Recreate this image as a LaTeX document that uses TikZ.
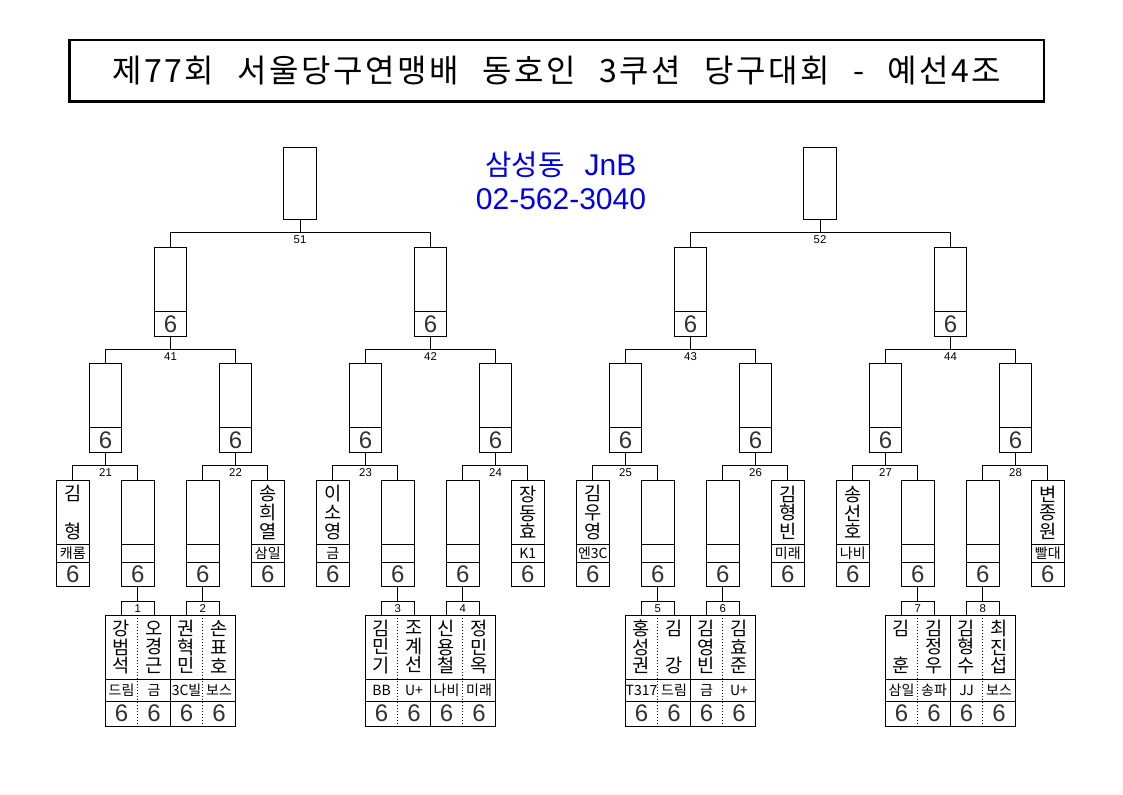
\documentclass[tikz,border=0pt]{standalone}
\usepackage{fontspec}
\setmainfont{Noto Sans CJK KR}
\newfontfamily\titlefont{Noto Sans CJK KR}[WordSpace=2.4, LetterSpace=8]
\newfontfamily\arialfont{Liberation Sans}
\usetikzlibrary{calc,positioning}

\newcommand\stack[3]{#1\\#2\\#3}

\begin{document}
\begin{tikzpicture}[
  x=0.75pt, y=-0.75pt,
  frame/.style={draw, line width=0.75pt, inner sep=0pt, outer sep=0pt},
  topbox/.style={frame, minimum width=24.75pt, minimum height=54pt},
  rbox/.style={frame, minimum width=24pt, minimum height=66.75pt},
  pbox/.style={frame, minimum width=24.5pt, minimum height=79.5pt},
  mbox/.style={frame, minimum width=48.75pt, minimum height=83.25pt},
  hbox/.style={frame, minimum width=24.4pt, minimum height=10pt, font=\arialfont\fontsize{8.5}{8.5}\selectfont},
  num/.style={font=\arialfont\fontsize{8.5}{8.5}\selectfont, inner sep=0pt},
  nm/.style={font=\fontsize{14}{13.9}\selectfont, align=center, inner sep=0pt},
  club/.style={font=\fontsize{10.5}{10.5}\selectfont, inner sep=0pt},
  six/.style={font=\arialfont\fontsize{18}{18}\selectfont, inner sep=0pt, text=black!80},
  dotsep/.style={line width=0.75pt, dash pattern=on 0.75pt off 1.5pt},
  bluetext/.style={font=\fontsize{21.5}{21.5}\selectfont, text={rgb,255:red,0;green,0;blue,235}, inner sep=0pt, anchor=base}
]

% --- page ---
\useasboundingbox (0,0) rectangle (1123,794);

% --- title and sponsor ---
\node[draw, line width=2pt, minimum width=731pt, minimum height=46.3pt, inner sep=0pt,
  font=\titlefont\fontsize{24}{24}\selectfont] (title) at (556.8,70.8)
  {제77회 서울당구연맹배 동호인 3쿠션 당구대회 - 예선4조};
\node[bluetext] (club1) at (561,175.7) {삼성동\hspace{15pt}{\arialfont\fontsize{22.5}{22.5}\selectfont JnB}};
\node[bluetext] (club2) at (561,209) {\arialfont\fontsize{22.5}{22.5}\selectfont 02-562-3040};

% --- top boxes ---
\foreach \h/\n in {0/51,1/52} {
  \node[topbox, anchor=north] (t\h) at (300+520*\h,147.3) {};
  \coordinate (j\n) at (300+520*\h,232.3);
  \node[num, below=2pt of j\n] (l\n) {\n};
}

% --- 41..44 ---
\foreach \k/\n in {0/41,1/42,2/43,3/44} {
  \node[rbox, anchor=north] (q\k) at (170.5+260*\k,247.3) {};
  \draw ($(q\k.south west)+(0,-24.6)$) -- ($(q\k.south east)+(0,-24.6)$);
  \node[six] (qs\k) at ($(q\k.south)+(0,-12.3)$) {6};
  \coordinate (j\n) at (170.5+260*\k,349.3);
  \node[num, below=2pt of j\n] (l\n) {\n};
}

% --- 21..28 ---
\foreach \m/\n in {0/21,1/22,2/23,3/24,4/25,5/26,6/27,7/28} {
  \node[rbox, anchor=north] (e\m) at (105.5+130*\m,363.3) {};
  \draw ($(e\m.south west)+(0,-25)$) -- ($(e\m.south east)+(0,-25)$);
  \node[six] (es\m) at ($(e\m.south)+(0,-12.5)$) {6};
  \coordinate (j\n) at (105.5+130*\m,465.7);
  \node[num, below=2pt of j\n] (l\n) {\n};
}

% --- first row: seeded players and winners of 1..8 ---
\foreach \i in {0,...,15} {
  \node[pbox, anchor=north] (p\i) at (72.8+65*\i,480.7) {};
  \draw ($(p\i.north west)+(0,63.6)$) -- ($(p\i.north east)+(0,63.6)$);
  \draw ($(p\i.north west)+(0,81.3)$) -- ($(p\i.north east)+(0,81.3)$);
  \node[six] (ps\i) at ($(p\i.north)+(0,93.6)$) {6};
}
\foreach \i/\who/\team in {0/{\stack{김}{~}{형}}/캐롬, 3/{\stack{송}{희}{열}}/삼일,
    4/{\stack{이}{소}{영}}/금, 7/{\stack{장}{동}{효}}/K1,
    8/{\stack{김}{우}{영}}/엔3C, 11/{\stack{김}{형}{빈}}/미래,
    12/{\stack{송}{선}{호}}/나비, 15/{\stack{변}{종}{원}}/빨대} {
  \node[nm] (pn\i) at ($(p\i.north)+(0,31.8)$) {\who};
  \node[club] (pc\i) at ($(p\i.north)+(0,72.5)$) {\team};
}

% --- matches 1..8 ---
\foreach \j/\i/\wa/\ta/\wb/\tb in {
    1/1/{\stack{강}{범}{석}}/드림/{\stack{오}{경}{근}}/금,
    2/2/{\stack{권}{혁}{민}}/3C빌/{\stack{손}{표}{호}}/보스,
    3/5/{\stack{김}{민}{기}}/BB/{\stack{조}{계}{선}}/U+,
    4/6/{\stack{신}{용}{철}}/나비/{\stack{정}{민}{옥}}/미래,
    5/9/{\stack{홍}{성}{권}}/T317/{\stack{김}{~}{강}}/드림,
    6/10/{\stack{김}{영}{빈}}/금/{\stack{김}{효}{준}}/U+,
    7/13/{\stack{김}{~}{훈}}/삼일/{\stack{김}{정}{우}}/송파,
    8/14/{\stack{김}{형}{수}}/JJ/{\stack{최}{진}{섭}}/보스} {
  \node[mbox, anchor=north] (m\j) at (72.8+65*\i,615) {};
  \node[hbox, above=0pt of m\j] (h\j) {\j};
  \draw[dotsep] (m\j.north) -- (m\j.south);
  \draw ($(m\j.north west)+(0,64)$) -- ($(m\j.north east)+(0,64)$);
  \draw ($(m\j.north west)+(0,86)$) -- ($(m\j.north east)+(0,86)$);
  \node[nm] (ma\j) at ($(m\j.north)+(-16.25,32)$) {\wa};
  \node[nm] (mb\j) at ($(m\j.north)+(16.25,32)$) {\wb};
  \node[club] (ca\j) at ($(m\j.north)+(-16.25,75)$) {\ta};
  \node[club] (cb\j) at ($(m\j.north)+(16.25,75)$) {\tb};
  \node[six] (sa\j) at ($(m\j.north)+(-16.25,98.5)$) {6};
  \node[six] (sb\j) at ($(m\j.north)+(16.25,98.5)$) {6};
  \draw[line width=0.75pt] (p\i.south) -- (h\j.north);
}

% --- brackets ---
\foreach \h/\n/\a/\b in {0/51/0/1,1/52/2/3} {
  \draw[line width=0.75pt] (t\h.south) -- (j\n);
  \draw[line width=0.75pt] (q\a.north) |- (j\n) -| (q\b.north);
}
\foreach \k/\n/\a/\b in {0/41/0/1,1/42/2/3,2/43/4/5,3/44/6/7} {
  \draw[line width=0.75pt] (q\k.south) -- (j\n);
  \draw[line width=0.75pt] (e\a.north) |- (j\n) -| (e\b.north);
}
\foreach \m/\n/\a/\b in {0/21/0/1,1/22/2/3,2/23/4/5,3/24/6/7,4/25/8/9,5/26/10/11,6/27/12/13,7/28/14/15} {
  \draw[line width=0.75pt] (e\m.south) -- (j\n);
  \draw[line width=0.75pt] (p\a.north) |- (j\n) -| (p\b.north);
}

\end{tikzpicture}
\end{document}
